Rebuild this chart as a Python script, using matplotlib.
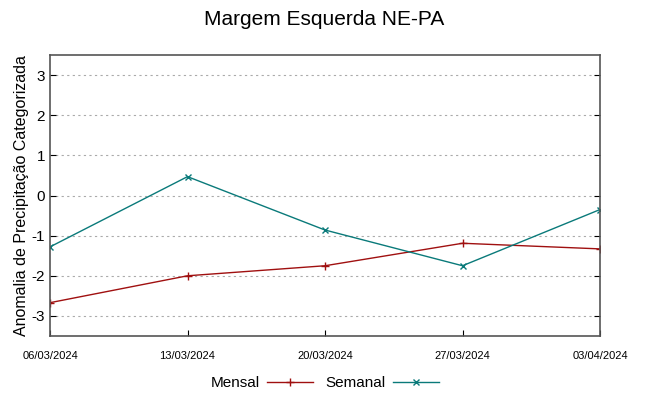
import matplotlib
matplotlib.use("Agg")
import matplotlib.pyplot as plt
from datetime import datetime

plt.rcParams['font.family'] = ['Liberation Sans', 'DejaVu Sans']
plt.rcParams['axes.unicode_minus'] = False

dates = ["06/03/2024", "13/03/2024", "20/03/2024", "27/03/2024", "03/04/2024"]
mensal = [-2.67, -2.0, -1.75, -1.19, -1.33]
semanal = [-1.28, 0.47, -0.86, -1.75, -0.35]

x = [datetime.strptime(d, "%d/%m/%Y") for d in dates]

fig = plt.figure(figsize=(6.49, 3.96), dpi=100)
ax = fig.add_axes([50/649, 1-336/396, 550/649, 281/396])

ax.plot(x, mensal, color="#a01010", lw=1.0, marker="+", ms=6, mew=1.0, label="Mensal")
ax.plot(x, semanal, color="#0a7a7a", lw=1.0, marker="x", ms=4.5, mew=1.0, label="Semanal")

ax.set_xlim(x[0], x[-1])
ax.set_ylim(-3.5, 3.5)
ax.set_yticks([-3, -2, -1, 0, 1, 2, 3])
ax.set_xticks(x)
ax.set_xticklabels(dates, fontsize=8)
ax.tick_params(axis='y', labelsize=11, direction='in', right=True, length=4)
ax.tick_params(axis='x', direction='in', length=4, pad=11)
ax.grid(axis='y', color='#aaaaaa', linestyle=(0, (2, 3)), lw=0.8)
for s in ax.spines.values():
    s.set_color('#555555')
    s.set_linewidth(1.2)

ax.set_ylabel("Anomalia de Precipitação Categorizada", fontsize=11.5, labelpad=2)
fig.suptitle("Margem Esquerda NE-PA", fontsize=15, y=0.975)

fig.legend(loc='lower center', bbox_to_anchor=(0.5, -0.02), ncol=2, frameon=False,
           markerfirst=False, fontsize=11, handlelength=3, columnspacing=0.8, handletextpad=0.5)

fig.savefig("out.png", dpi=100)
